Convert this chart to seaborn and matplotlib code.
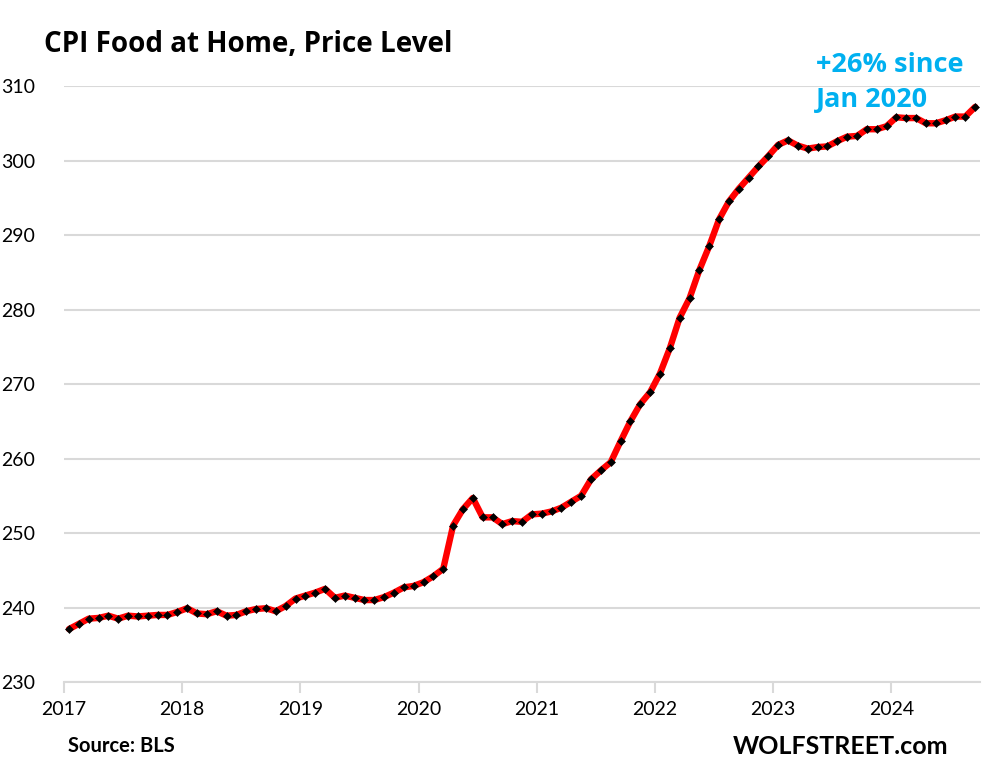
import numpy as np
import pandas as pd
import matplotlib
matplotlib.use("Agg")
import matplotlib.pyplot as plt
import seaborn as sns

# Monthly CPI Food at Home, Jan 2017 - Sep 2024
cpi_2017 = [237.1, 237.8, 238.5, 238.6, 238.9, 238.5, 238.9, 238.8, 238.9, 239.0, 239.0, 239.4]
cpi_2018 = [239.9, 239.2, 239.1, 239.5, 238.9, 239.0, 239.5, 239.8, 239.9, 239.5, 240.2, 241.2]
cpi_2019 = [241.6, 242.0, 242.5, 241.3, 241.6, 241.3, 241.0, 241.0, 241.4, 242.0, 242.7, 242.9]
cpi_2020 = [243.4, 244.2, 245.2, 251.0, 253.2, 254.7, 252.1, 252.1, 251.2, 251.6, 251.5, 252.5]
cpi_2021 = [252.6, 252.9, 253.4, 254.2, 255.0, 257.2, 258.4, 259.5, 262.3, 265.0, 267.3, 268.9]
cpi_2022 = [271.4, 274.8, 278.9, 281.5, 285.3, 288.5, 292.1, 294.5, 296.2, 297.7, 299.2, 300.6]
cpi_2023 = [302.1, 302.7, 302.0, 301.6, 301.8, 301.9, 302.6, 303.2, 303.3, 304.2, 304.2, 304.6]
cpi_2024 = [305.8, 305.7, 305.7, 305.0, 305.0, 305.4, 305.9, 305.9, 307.2]

years = [2017, 2018, 2019, 2020, 2021, 2022, 2023, 2024]
year_labels = [str(y) for y in years]
y_ticks = [230, 240, 250, 260, 270, 280, 290, 300, 310]

title = "CPI Food at Home, Price Level"
note = "+26% since\nJan 2020"
source = "Source: BLS"
brand = "WOLFSTREET.com"

values = cpi_2017 + cpi_2018 + cpi_2019 + cpi_2020 + cpi_2021 + cpi_2022 + cpi_2023 + cpi_2024
dates = pd.date_range("2017-01-01", periods=len(values), freq="MS")
# months since Jan 2017, centred within each month (Excel date-axis style)
month_pos = (dates.year - years[0]) * 12 + (dates.month - 1) + 0.5
df = pd.DataFrame({"month": month_pos, "cpi": values})

sns.set_theme(style="white")
plt.rcParams["font.family"] = ["Lato", "DejaVu Sans"]

fig = plt.figure(figsize=(9.85, 7.75), dpi=100)
ax = fig.add_axes([0.065, 0.12, 0.93, 0.769])

sns.lineplot(data=df, x="month", y="cpi", ax=ax, color="#FF0000", linewidth=4.6,
             marker="D", markersize=3.6, markerfacecolor="black",
             markeredgecolor="black", markeredgewidth=0.4, zorder=3)

ax.set_xlim(0, len(values))
ax.set_ylim(y_ticks[0], y_ticks[-1])
ax.set_yticks(y_ticks)
ax.set_yticklabels([str(v) for v in y_ticks])
ax.set_xticks([(y - years[0]) * 12 for y in years])
ax.set_xticklabels(year_labels)

ax.grid(axis="y", color="#D9D9D9", linewidth=1.5)
ax.grid(axis="x", visible=False)
for s in ["left", "right", "top"]:
    ax.spines[s].set_visible(False)
ax.spines["bottom"].set_color("#D9D9D9")
ax.spines["bottom"].set_linewidth(1.5)
ax.tick_params(axis="x", which="major", length=8, width=1.5, color="#D9D9D9",
               labelsize=14, pad=6, labelcolor="black", bottom=True)
ax.tick_params(axis="y", length=0, labelsize=14, pad=21, labelcolor="black")
ax.set_xlabel("")
ax.set_ylabel("")

open_sans = ["Open Sans", "DejaVu Sans"]
fig.text(0.045, 0.942, title, fontsize=20, fontweight="bold", color="black",
         ha="left", va="center", family=open_sans)
fig.text(0.828, 0.894, note, fontsize=19.5, fontweight="bold", color="#00B0F0",
         ha="left", va="center", linespacing=1.45, family=open_sans)
fig.text(0.069, 0.037, source, fontsize=14.5, fontweight="bold", color="black",
         ha="left", va="center")
fig.text(0.963, 0.037, brand, fontsize=18, fontweight="bold", color="black",
         ha="right", va="center")

fig.savefig("out.png", dpi=100)
